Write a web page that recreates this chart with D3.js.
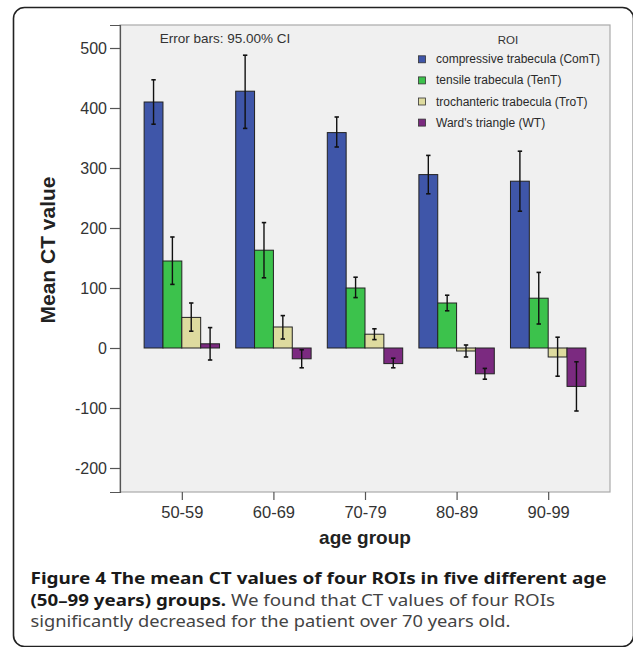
<!DOCTYPE html>
<html>
<head>
<meta charset="utf-8">
<script src="https://cdn.jsdelivr.net/npm/d3@7"></script>
<style>
  body { margin: 0; background: #fff; }
  svg { display: block; }
</style>
</head>
<body>
<svg id="chart" width="633" height="647"></svg>
<script>
// age groups and ROIs
const groups = ["50-59", "60-69", "70-79", "80-89", "90-99"]
const rois = ["compressive trabecula (ComT)", "tensile trabecula (TenT)", "trochanteric trabecula (TroT)", "Ward's triangle (WT)"]
const roiColors = ["#3f56a9", "#3cc24c", "#dedb9f", "#7b2a80"]

// mean CT value per ROI, one entry per age group
const meanComT = [410, 428, 359, 289, 278]
const meanTenT = [145, 163, 100, 75, 83]
const meanTroT = [51, 35, 23, -5, -15]
const meanWT = [7, -18, -26, -43, -64]

// 95% CI bounds
const lowComT = [373, 366, 335, 257, 228]
const highComT = [447, 488, 385, 321, 328]
const lowTenT = [106, 117, 84, 62, 40]
const highTenT = [185, 209, 118, 88, 126]
const lowTroT = [28, 15, 14, -15, -47]
const highTroT = [75, 54, 32, 5, 18]
const lowWT = [-20, -33, -33, -52, -105]
const highWT = [34, -3, -17, -34, -23]

const yTicks = [-200, -100, 0, 100, 200, 300, 400, 500]

const means = [meanComT, meanTenT, meanTroT, meanWT]
const lows = [lowComT, lowTenT, lowTroT, lowWT]
const highs = [highComT, highTenT, highTroT, highWT]

let data = []
groups.forEach((g, gi) => {
    rois.forEach((r, ri) => {
        data.push({ group: g, roi: r, color: roiColors[ri], mean: means[ri][gi], lo: lows[ri][gi], hi: highs[ri][gi] })
    })
})

const svg = d3.select('#chart')
const margin = { top: 25, right: 23, bottom: 155, left: 120 }
const plotW = 633 - margin.left - margin.right
const plotH = 647 - margin.top - margin.bottom

// outer rounded frame (right and bottom edges run off the page)
svg.append('rect')
    .attr('x', 13.5).attr('y', 7.5)
    .attr('width', 620).attr('height', 639)
    .attr('rx', 11)
    .attr('fill', 'none')
    .attr('stroke', '#222')
    .attr('stroke-width', 1.6)

const g = svg.append('g').attr('transform', `translate(${margin.left},${margin.top})`)

g.append('rect')
    .attr('width', plotW).attr('height', plotH)
    .attr('fill', '#f0f0f0')
    .attr('stroke', '#aaa')
    .attr('stroke-width', 1.2)

const xScale = d3.scalePoint().domain(groups).range([0, plotW]).padding(0.675)
const inner = d3.scaleBand().domain(rois).range([-37.7, 37.7])
const yScale = d3.scaleLinear().domain([-240, 538.33]).range([plotH, 0])

// y axis
const yAxis = d3.axisLeft(yScale).tickValues(yTicks).tickSize(10).tickPadding(3)
    .tickFormat(d => String(d))
const yG = g.append('g').call(yAxis)
yG.select('.domain').attr('stroke', '#555').attr('stroke-width', 1.2)
yG.selectAll('.tick line').attr('stroke', '#555').attr('stroke-width', 1.2)
yG.selectAll('.tick text')
    .style('font-family', 'Liberation Sans, Arial, sans-serif')
    .style('font-size', '16px')
    .attr('fill', '#333')

// x axis
const xAxis = d3.axisBottom(xScale).tickSize(8).tickPadding(6)
const xG = g.append('g').attr('transform', `translate(0,${plotH})`).call(xAxis)
xG.select('.domain').remove()
xG.selectAll('.tick line').attr('stroke', '#555').attr('stroke-width', 1.2)
xG.selectAll('.tick text')
    .style('font-family', 'Liberation Sans, Arial, sans-serif')
    .style('font-size', '16.5px')
    .attr('fill', '#333')

// bars
g.selectAll('.bar')
    .data(data)
    .enter()
    .append('rect')
    .attr('class', 'bar')
    .attr('x', d => xScale(d.group) + inner(d.roi))
    .attr('width', inner.bandwidth())
    .attr('y', d => yScale(Math.max(0, d.mean)))
    .attr('height', d => Math.abs(yScale(d.mean) - yScale(0)))
    .attr('fill', d => d.color)
    .attr('stroke', '#222')
    .attr('stroke-width', 1)

// error bars
const errG = g.selectAll('.err')
    .data(data)
    .enter()
    .append('g')
    .attr('class', 'err')
    .attr('transform', d => `translate(${xScale(d.group) + inner(d.roi) + inner.bandwidth() / 2},0)`)
errG.append('line')
    .attr('y1', d => yScale(d.lo)).attr('y2', d => yScale(d.hi))
    .attr('stroke', '#111').attr('stroke-width', 1.4)
errG.append('line')
    .attr('x1', -2.2).attr('x2', 2.2)
    .attr('y1', d => yScale(d.hi)).attr('y2', d => yScale(d.hi))
    .attr('stroke', '#111').attr('stroke-width', 1.6)
errG.append('line')
    .attr('x1', -2.2).attr('x2', 2.2)
    .attr('y1', d => yScale(d.lo)).attr('y2', d => yScale(d.lo))
    .attr('stroke', '#111').attr('stroke-width', 1.6)

// annotation
g.append('text')
    .attr('x', 105).attr('y', 18.3)
    .style('font-family', 'Liberation Sans, Arial, sans-serif')
    .style('font-size', '13.5px')
    .style('text-anchor', 'middle')
    .attr('fill', '#333')
    .text('Error bars: 95.00% CI')

// legend
const legend = g.append('g').attr('transform', 'translate(298,0)')
legend.append('text')
    .attr('x', 90).attr('y', 19.3)
    .style('font-family', 'Liberation Sans, Arial, sans-serif')
    .style('font-size', '11.5px')
    .style('text-anchor', 'middle')
    .attr('fill', '#333')
    .text('ROI')
const items = legend.selectAll('.item')
    .data(rois)
    .enter()
    .append('g')
    .attr('class', 'item')
    .attr('transform', (d, i) => `translate(0,${34.3 + i * 21.1})`)
items.append('rect')
    .attr('x', 0.5).attr('y', -3.5)
    .attr('width', 7).attr('height', 7)
    .attr('fill', (d, i) => roiColors[i])
    .attr('stroke', '#333').attr('stroke-width', 0.8)
items.append('text')
    .attr('x', 18).attr('y', 4)
    .style('font-family', 'Liberation Sans, Arial, sans-serif')
    .style('font-size', '12px')
    .attr('fill', '#2a2a2a')
    .text(d => d)

// axis titles
svg.append('text')
    .attr('transform', 'translate(55,250) rotate(-90)')
    .style('font-family', 'Liberation Sans, Arial, sans-serif')
    .style('font-size', '21px')
    .style('font-weight', 'bold')
    .style('text-anchor', 'middle')
    .attr('fill', '#222')
    .text('Mean CT value')

svg.append('text')
    .attr('x', margin.left + plotW / 2).attr('y', 544)
    .style('font-family', 'Liberation Sans, Arial, sans-serif')
    .style('font-size', '19px')
    .style('font-weight', 'bold')
    .style('text-anchor', 'middle')
    .attr('fill', '#222')
    .text('age group')

// caption
const capFont = "'Noto Sans', 'Open Sans', sans-serif"
svg.append('text')
    .attr('x', 30.5).attr('y', 584.3)
    .attr('textLength', 576).attr('lengthAdjust', 'spacingAndGlyphs')
    .style('font-family', capFont).style('font-size', '16.5px').style('font-weight', 'bold')
    .attr('fill', '#1a1a1a')
    .text('Figure 4 The mean CT values of four ROIs in five different age')

const line2 = svg.append('text')
    .attr('x', 30.5).attr('y', 606)
    .attr('textLength', 524.5).attr('lengthAdjust', 'spacingAndGlyphs')
    .style('font-family', capFont).style('font-size', '16.5px')
line2.append('tspan').style('font-weight', 'bold').attr('fill', '#1a1a1a').text('(50–99 years) groups.')
line2.append('tspan').attr('fill', '#444').text(' We found that CT values of four ROIs')

svg.append('text')
    .attr('x', 30.5).attr('y', 627)
    .attr('textLength', 480).attr('lengthAdjust', 'spacingAndGlyphs')
    .style('font-family', capFont).style('font-size', '16.5px')
    .attr('fill', '#444')
    .text('significantly decreased for the patient over 70 years old.')
</script>
</body>
</html>
